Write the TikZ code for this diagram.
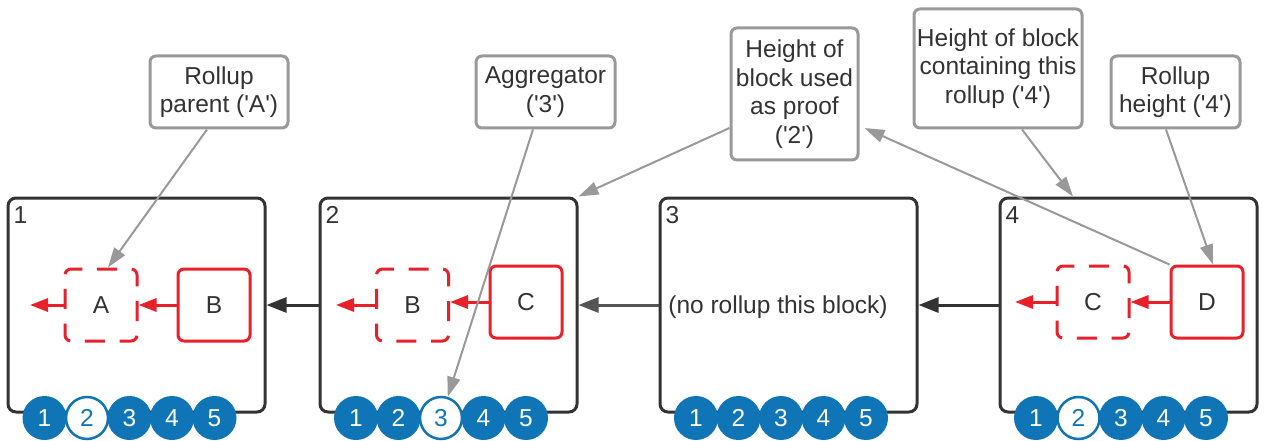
\documentclass[tikz,border=0pt]{standalone}
\usepackage{fontspec}
\setmainfont{Liberation Sans}
\usetikzlibrary{arrows.meta}
\definecolor{dk}{HTML}{333333}
\definecolor{md}{HTML}{555555}
\definecolor{gy}{HTML}{999999}
\definecolor{rd}{HTML}{E8202A}
\definecolor{bl}{HTML}{0F75B6}
\newcommand\myq{\textquotesingle}
\tikzset{
  blockbox/.style={draw=dk, line width=3pt, rounded corners=8pt, minimum width=257pt, minimum height=214pt, inner sep=0pt, fill=white},
  redsolid/.style={draw=rd, line width=3pt, rounded corners=6pt, minimum width=72pt, minimum height=72pt, inner sep=0pt},
  reddash/.style={line width=3pt, minimum width=72pt, minimum height=72pt, inner sep=0pt},
  dashline/.style={draw=rd, line width=3pt, rounded corners=6pt, dash pattern=on 20pt off 14.7pt, dash phase=10pt},
  callout/.style={draw=gy, line width=3pt, rounded corners=6pt, inner sep=0pt, align=center, fill=white},
  bubble/.style={circle, fill=bl, text=white, minimum size=44pt, inner sep=0pt},
  hollow/.style={circle, fill=white, draw=bl, line width=2.5pt, text=bl, minimum size=42pt, inner sep=0pt},
  redarrow/.style={draw=rd, line width=3pt, -{Triangle[length=18pt,width=13pt]}},
  blkarrow/.style={draw=dk, line width=3pt, -{Triangle[length=20pt,width=15pt]}},
  midarrow/.style={draw=md, line width=3pt, -{Triangle[length=20pt,width=15pt]}},
  gyarrow/.style={draw=gy, line width=2pt, -{Triangle[length=20pt,width=13pt]}},
  blabel/.style={anchor=north west, inner sep=0pt}
}
\newcommand\mydashframe[1]{\draw[dashline] ([shift={(0,-36)}]#1.center) -- ([shift={(36,-36)}]#1.center) -- ([shift={(36,36)}]#1.center) -- ([shift={(-36,36)}]#1.center) -- ([shift={(-36,-36)}]#1.center) -- cycle;}
\begin{document}
\begin{tikzpicture}[x=1pt,y=-1pt, font=\fontsize{24.5pt}{28.5pt}\selectfont, text=dk]
\useasboundingbox (0,0) rectangle (1283,441);
% blocks
\node[blockbox] (b1) at (136.5,305) {};
\node[blockbox] (b2) at (448.5,305) {};
\node[blockbox] (b3) at (788.5,305) {};
\node[blockbox] (b4) at (1128.5,305) {};
\node[blabel] (l1) at ([xshift=7pt,yshift=-10pt]b1.north west) {1};
\node[blabel] (l2) at ([xshift=7pt,yshift=-10pt]b2.north west) {2};
\node[blabel] (l3) at ([xshift=7pt,yshift=-10pt]b3.north west) {3};
\node[blabel] (l4) at ([xshift=7pt,yshift=-10pt]b4.north west) {4};
\node[inner sep=0pt] (nr) at (778,307) {(no rollup this block)};
% red boxes
\node[reddash] (A1) at (101,305) {A};
\node[redsolid] (B1) at (214,305) {B};
\node[reddash] (B2) at (412.5,305) {B};
\node[redsolid] (C2) at (526,302) {C};
\node[reddash] (C4) at (1093,302) {C};
\node[redsolid] (D4) at (1207,302) {D};
\mydashframe{A1}
\mydashframe{B2}
\mydashframe{C4}
\coordinate (o1) at (30,305);
\coordinate (o2) at (336,305);
\coordinate (o4) at (1015,302);
\draw[redarrow] (B1.west) -- (A1.east);
\draw[redarrow] (A1.west) -- (o1);
\draw[redarrow] (C2.west) -- (C2.west -| B2.east);
\draw[redarrow] (B2.west) -- (o2);
\draw[redarrow] (D4.west) -- (C4.east);
\draw[redarrow] (C4.west) -- (o4);
% chain arrows
\draw[blkarrow] (b2.west) -- (b1.east);
\draw[midarrow] (b3.west) -- (b2.east);
\draw[blkarrow] (b4.west) -- (b3.east);
% circles
\foreach \i/\s in {1/bubble,2/hollow,3/bubble,4/bubble,5/bubble}
  \node[\s] (r1c\i) at ({44.5+42.5*(\i-1)},418) {\i};
\foreach \i/\s in {1/bubble,2/bubble,3/hollow,4/bubble,5/bubble}
  \node[\s] (r2c\i) at ({356+42.5*(\i-1)},418) {\i};
\foreach \i/\s in {1/bubble,2/bubble,3/bubble,4/bubble,5/bubble}
  \node[\s] (r3c\i) at ({696+42.5*(\i-1)},418) {\i};
\foreach \i/\s in {1/bubble,2/hollow,3/bubble,4/bubble,5/bubble}
  \node[\s] (r4c\i) at ({1036+42.5*(\i-1)},418) {\i};
% callouts
\node[callout, minimum width=138pt, minimum height=72pt] (rp) at (219,92) {Rollup\\parent (\myq A\myq)};
\node[callout, minimum width=139pt, minimum height=72pt] (agg) at (545.5,92) {Aggregator\\(\myq 3\myq)};
\node[callout, minimum width=127pt, minimum height=132pt] (proof) at (794.5,94) {Height of\\block used\\as proof\\(\myq 2\myq)};
\node[callout, minimum width=168pt, minimum height=119pt] (cont) at (998,68.5) {Height of block\\containing this\\rollup (\myq 4\myq)};
\node[callout, minimum width=129pt, minimum height=72pt] (rh) at (1175.5,92) {Rollup\\height (\myq 4\myq)};
% callout connectors
\draw[gyarrow] ([xshift=-12pt]rp.south) -- ([xshift=7pt]A1.north);
\draw[gyarrow] ([xshift=-12.5pt]agg.south) -- (r2c3);
\draw[gyarrow] ([yshift=-34pt]proof.west) -- (b2.north east);
\draw[gyarrow] (D4.north west) -- ([xshift=5pt,yshift=-34pt]proof.east);
\draw[gyarrow] ([xshift=24pt]cont.south) -- ([xshift=-55.5pt]b4.north);
\draw[gyarrow] ([xshift=-9.5pt]rh.south) -- ([xshift=6pt]D4.north);
\end{tikzpicture}
\end{document}
